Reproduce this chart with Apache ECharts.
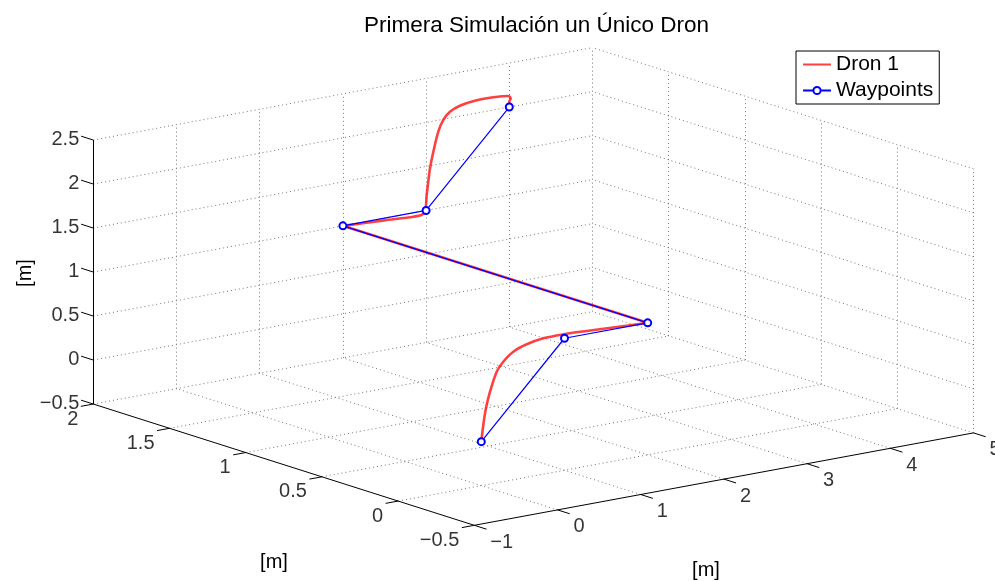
<!DOCTYPE html>
<html>
<head>
<meta charset="utf-8">
<script src="https://cdn.jsdelivr.net/npm/echarts@6.0.0/dist/echarts.min.js"></script>
<style>
  html, body { margin: 0; padding: 0; background: #fff; }
  #chart { width: 995px; height: 581px; }
</style>
</head>
<body>
<div id="chart"></div>
<script>
// ticks de los tres ejes
const xTicks = [-1, 0, 1, 2, 3, 4, 5]
const yTicks = [-0.5, 0, 0.5, 1, 1.5, 2]
const zTicks = [-0.5, 0, 0.5, 1, 1.5, 2, 2.5]

// waypoints
const wpX = [0, 1, 2, 2, 3, 4]
const wpY = [0, 0, 0, 2, 2, 2]
const wpZ = [0, 1, 1, 1, 1, 2]

// trayectoria del dron
const droneX = [0, 0.024, 0.056, 0.105, 0.185, 0.264, 0.385, 0.546, 0.745, 0.986, 1.267, 1.627, 2,
  2, 2.5, 2.85, 2.95, 2.99, 3.007, 3.026, 3.047, 3.087, 3.147, 3.207, 3.287, 3.407, 3.608, 3.808, 3.988, 4.017, 4.0, 4.0]
const droneY = [0, 0, 0, 0, 0, 0, 0, 0, 0, 0, 0, 0, 0,
  2, 2, 2, 2, 2, 2, 2, 2, 2, 2, 2, 2, 2, 2, 2, 2, 2, 2, 2]
const droneZ = [0, 0.185, 0.369, 0.549, 0.763, 0.862, 0.955, 1.011, 1.044, 1.047, 1.036, 1.018, 1,
  1, 0.975, 0.955, 0.96, 1.0, 1.174, 1.322, 1.471, 1.652, 1.869, 1.992, 2.072, 2.119, 2.145, 2.144, 2.128, 2.096, 2.061, 2]

const FONT = 'Liberation Sans'

// vista 3D (az -37.5, el 30) proyectada a pixeles del plano
const xMin = xTicks[0], xMax = xTicks[xTicks.length - 1]
const yMin = yTicks[0], yMax = yTicks[yTicks.length - 1]
const zMin = zTicks[0], zMax = zTicks[zTicks.length - 1]
const origin = [474.3, 525.3]
const ex = [83.2, -15.4], ey = [-152.4, -48.5], ez = [0, -88]
function proj(x, y, z) {
  const a = x - xMin, b = y - yMin, c = z - zMin
  return [origin[0] + a * ex[0] + b * ey[0] + c * ez[0],
          origin[1] + a * ex[1] + b * ey[1] + c * ez[1]]
}

// lineas de la rejilla (suelo y dos paredes del fondo)
const gridSegs = []
const seen = {}
function seg(p, q) {
  const k = p.concat(q).join(',')
  if (seen[k]) return
  seen[k] = true
  gridSegs.push({ coords: [proj(...p), proj(...q)] })
}
xTicks.slice(1).forEach(x => seg([x, yMin, zMin], [x, yMax, zMin]))
yTicks.slice(1).forEach(y => seg([xMin, y, zMin], [xMax, y, zMin]))
xTicks.slice(1).forEach(x => seg([x, yMax, zMin], [x, yMax, zMax]))
zTicks.forEach(z => seg([xMin, yMax, z], [xMax, yMax, z]))
yTicks.forEach(y => seg([xMax, y, zMin], [xMax, y, zMax]))
zTicks.forEach(z => seg([xMax, yMin, z], [xMax, yMax, z]))

const axisSegs = [
  { coords: [proj(xMin, yMin, zMin), proj(xMax, yMin, zMin)] },
  { coords: [proj(xMin, yMin, zMin), proj(xMin, yMax, zMin)] },
  { coords: [proj(xMin, yMax, zMin), proj(xMin, yMax, zMax)] }
]
xTicks.forEach(x => axisSegs.push({ coords: [proj(x, yMin, zMin), proj(x, yMin - 0.08, zMin)] }))
yTicks.forEach(y => axisSegs.push({ coords: [proj(xMin, y, zMin), proj(xMin - 0.15, y, zMin)] }))
zTicks.forEach(z => axisSegs.push({ coords: [proj(xMin, yMax, z), proj(xMin, yMax + 0.08, z)] }))

const fmt = v => (v < 0 ? '\u2212' + Math.abs(v) : String(v))

function tickLabels(points, align, offset) {
  return {
    type: 'scatter',
    symbolSize: 0,
    silent: true,
    data: points,
    label: {
      show: true,
      position: 'inside',
      align: align,
      verticalAlign: 'middle',
      offset: offset,
      color: '#000',
      fontSize: 20,
      fontFamily: FONT,
      formatter: p => fmt(p.value[2])
    },
    z: 5
  }
}

const dronePts = droneX.map((x, i) => proj(x, droneY[i], droneZ[i]))
function droneSeries(pts, smooth) {
  return {
    name: 'Dron 1',
    type: 'line',
    data: pts,
    symbol: 'none',
    smooth: smooth,
    color: '#ff0000',
    lineStyle: { color: '#ff0000', width: 2.6, opacity: 0.75 },
    silent: true,
    z: 3
  }
}

const chart = echarts.init(document.getElementById('chart'))
chart.setOption({
  animation: false,
  backgroundColor: '#fff',
  title: {
    text: 'Primera Simulación un Único Dron',
    left: 359,
    top: 9,
    textStyle: { fontSize: 22.5, fontWeight: 'normal', color: '#000', fontFamily: FONT }
  },
  legend: {
    data: [
      { name: 'Dron 1', itemStyle: { opacity: 0 } },
      { name: 'Waypoints' }
    ],
    orient: 'vertical',
    left: 796,
    top: 51,
    padding: [3, 6, 3, 6],
    itemGap: 5,
    itemWidth: 28,
    itemHeight: 9,
    borderColor: '#000',
    borderWidth: 1,
    backgroundColor: '#fff',
    textStyle: { fontSize: 21, color: '#000', fontFamily: FONT }
  },
  grid: { left: 0, right: 0, top: 0, bottom: 0 },
  xAxis: { type: 'value', min: 0, max: 995, show: false },
  yAxis: { type: 'value', min: 0, max: 581, inverse: true, show: false },
  graphic: [
    { type: 'text', x: 25, y: 273, rotation: Math.PI / 2,
      style: { text: '[m]', font: '20px ' + FONT, fill: '#000', align: 'center', verticalAlign: 'middle' } },
    { type: 'text', x: 706, y: 570,
      style: { text: '[m]', font: '20px ' + FONT, fill: '#000', align: 'center', verticalAlign: 'middle' } },
    { type: 'text', x: 274, y: 562,
      style: { text: '[m]', font: '20px ' + FONT, fill: '#000', align: 'center', verticalAlign: 'middle' } }
  ],
  series: [
    {
      type: 'lines',
      coordinateSystem: 'cartesian2d',
      silent: true,
      data: gridSegs,
      lineStyle: { color: '#777', width: 1, type: [1, 3], opacity: 1 },
      z: 1
    },
    {
      type: 'lines',
      coordinateSystem: 'cartesian2d',
      silent: true,
      data: axisSegs,
      lineStyle: { color: '#000', width: 1, type: 'solid', opacity: 1 },
      z: 2
    },
    tickLabels(xTicks.map(x => proj(x, yMin, zMin).concat(x)), 'left', [16, 17]),
    tickLabels(yTicks.map(y => proj(xMin, y, zMin).concat(y)), 'right', [-15, 15]),
    tickLabels(zTicks.map(z => proj(xMin, yMax, z).concat(z)), 'right', [-14, -1]),
    droneSeries(dronePts.slice(0, 13), 0.3),
    droneSeries(dronePts.slice(12, 14), false),
    droneSeries(dronePts.slice(13), 0.3),
    {
      name: 'Waypoints',
      type: 'line',
      data: wpX.map((x, i) => proj(x, wpY[i], wpZ[i])),
      symbol: 'emptyCircle',
      symbolSize: 7,
      showAllSymbol: true,
      color: '#0000ff',
      lineStyle: { color: '#0000ff', width: 1.2 },
      itemStyle: { color: '#0000ff', borderColor: '#0000ff', borderWidth: 1.2 },
      silent: true,
      z: 4
    }
  ]
})
</script>
</body>
</html>
